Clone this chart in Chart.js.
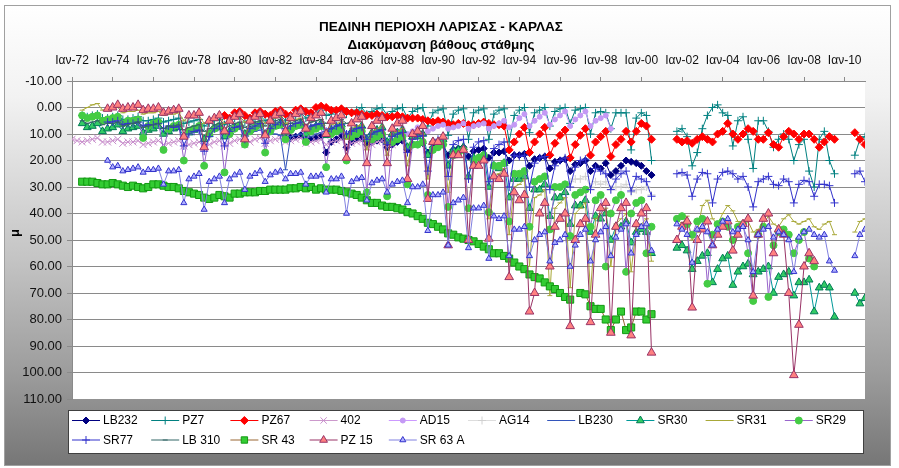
<!DOCTYPE html>
<html>
<head>
<meta charset="utf-8">
<title>Πεδινή περιοχή Λάρισας - Κάρλας</title>
<script src="https://cdn.jsdelivr.net/npm/chart.js"></script>
<style>
    html, body { margin: 0; padding: 0; background: #fff; }
    #wrap { width: 899px; height: 468px; position: relative; }
</style>
</head>
<body>
<div id="wrap"><canvas id="depthChart"></canvas></div>
<script>
// Water table depth (m) per well.
// One value per quarter (Jan, Apr, Jul, Oct), one row per year, from the given start year.

const titleLines = ['ΠΕΔΙΝΗ ΠΕΡΙΟΧΗ ΛΑΡΙΣΑΣ - ΚΑΡΛΑΣ', 'Διακύμανση βάθους στάθμης'];
const yAxisTitle = 'μ';

const tickYears = [1972, 1974, 1976, 1978, 1980, 1982, 1984, 1986, 1988, 1990,
    1992, 1994, 1996, 1998, 2000, 2002, 2004, 2006, 2008, 2010];
const xTickLabels = ['Ιαν-72', 'Ιαν-74', 'Ιαν-76', 'Ιαν-78', 'Ιαν-80', 'Ιαν-82', 'Ιαν-84',
    'Ιαν-86', 'Ιαν-88', 'Ιαν-90', 'Ιαν-92', 'Ιαν-94', 'Ιαν-96', 'Ιαν-98', 'Ιαν-00',
    'Ιαν-02', 'Ιαν-04', 'Ιαν-06', 'Ιαν-08', 'Ιαν-10'];
const yTickValues = [-10, 0, 10, 20, 30, 40, 50, 60, 70, 80, 90, 100, 110];

const seriesNames = ['LB232', 'PZ7', 'PZ67', '402', 'AD15', 'AG14', 'LB230', 'SR30',
    'SR31', 'SR29', 'SR77', 'LB 310', 'SR 43', 'PZ 15', 'SR 63 A'];

const lb232Start = 1982;
const lb232 = [
    null, null, 11, 11.5,   // 1982
    11, 10.5, 12, 12,
    11.5, 11, 17, 13,
    12, 11, 15, 13,
    12, 11.5, 14, 13,       // 1986
    12.5, 12, 15, 14,
    13, 12.5, 16, 14,
    14, 13.5, 17, 15,
    15, 14, 18, 16,         // 1990
    15.5, 15, 18.5, 16.5,
    16, 15.5, 19, 17,
    17, 16.5, 20, 18,
    18, 17.5, 22, 19.5,     // 1994
    19, 18.5, 23, 20.5,
    20, 19.5, 24, 21.5,
    21, 20, 24, 22,
    23, 21, 25.5, 24,       // 1998
    22, 20, 20.5, 21,
    22, 24, 25.5            // 2000
];

const pz7Start = 1972;
const pz7 = [
    null, null, 3, 3.5,     // 1972
    3, 2.5, 4, 4,
    3.5, 3, 4.5, 4.5,
    4, 3.5, 5, 5,
    4.5, 4, 5.5, 5,         // 1976
    4.5, 4, 6, 5.5,
    5, 4.5, 7, 6,
    5, 4.5, 6.5, 5.5,
    4, 3.5, 5.5, 5,         // 1980
    4, 3, 5, 4.5,
    3.5, 3, 5, 4,
    3, 2, 4, 3,
    2, 1, 3, 2.5,           // 1984
    1.5, 0.5, 2.5, 2,
    1, 0, 2.5, 1.5,
    0.5, 0, 3, 1.5,
    0.5, 0, 4, 1.5,         // 1988
    0.5, 0, 7, 2,
    1, 0.5, 10.5, 2.5,
    1, 0.5, 12, 2,
    1, 0.5, 12, 2.5,        // 1992
    1, 0.5, 13, 3,
    1, 0, 9.5, 2,
    1, 0, 7, 1.5,
    0.5, 0, 6, 1,           // 1996
    0.5, 0, 10, 2,
    1.5, 2, 8, 2,
    2, 2, 16, 4,
    2, 3, 20, null,         // 2000
    null, null, null, 9,
    8, 11, 22, 17,
    8, 3, 0, -1,
    2, 3, 14.5, 5,          // 2004
    3.5, 12, 23, 5,
    5, 9, 15, 12,
    10, 12, 20, 14,
    12, 24, 30, 12,         // 2008
    9, 20, 25, null,
    null, null, 18, 12,
    11                      // 2011
];

const pz67Start = 1979;
const pz67 = [
    null, null, 3, 4,       // 1979
    2, 1.5, 3, 4,
    2, 1.5, 2.5, 3,
    1.5, 1, 2.5, 3,
    1, 0.5, 1.5, 2,
    0, -0.5, 0, 1,          // 1984
    1, 0.5, 1.5, 2,
    2, 2.5, 3, 3,
    2.5, 3, 3.5, 3.5,
    3, 3.5, 4, 4,           // 1988
    4, 4.5, 5, 5.5,
    5, 5.5, 6, 6.5,
    6, 6, 6.5, 6.5,
    6, 5.5, 6, 6.5,         // 1992
    6.5, 7, 16, 13,
    10, 7.5, 17, 13,
    10, 7.5, 18, 13.5,
    10.5, 8.5, 19, 14,      // 1996
    10.5, 8, 18, 13,
    11, 9, 18.5, 14,
    12, 9, 13, 9,
    6, 7, 12, null,         // 2000
    null, null, null, 12,
    13, 12.5, 13.5, 12,
    11, 12, 13, 10,
    9, 6, 10, 12,           // 2004
    10, 8, 9, 12,
    12, 9.5, 14, 15,
    11, 9, 10, 12,
    10, 10, 12, 15,         // 2008
    13, 11, 12, null,
    null, null, 9.5, 12,
    14                      // 2011
];

const w402Start = 1972;
const w402 = [
    12, 12.5, 13, 12.5,     // 1972
    12, 11.5, 13, 13,
    12.5, 12, 13.5, 13,
    13, 12.5, 14, 13.5,
    13, 12.5, 14, 13.5,     // 1976
    13, 12.5, 14.5, 14,
    13.5, 13, 15, 14,
    13, 12.5, 14.5, 13.5,
    12.5, 12, 14, 13,       // 1980
    12, 11.5, 13.5, 12.5,
    12, 11.5, 13, 12.5,
    12, 11.5, 13.5, 13,
    12.5, 12, 14, 13,       // 1984
    12.5, 12, 14.5, 13.5,
    13, 12.5, 15, 14,
    13, 12.5, 15, 14
];

const ad15Start = 1988;
const ad15 = [
    9, 8, 10, 9,            // 1988
    7.5, 7, 9, 8,
    7, 6.5, 8, 7.5,
    7, 6, 8, 7,
    6.5, 6, 8, 7,           // 1992
    6, 5, 7.5, 6.5,
    4, 2.5, 7, 5,
    3.5, 2, 6.5, 4.5,
    3, 1.5, 7, 4.5,         // 1996
    3, 1.5, 7, 5,
    4, 3, 8
];

const ag14Start = 1996;
const ag14 = [
    null, null, 28, 27,     // 1996
    27, 26, 30, 28,
    29, 28, 31, 30,
    30, 29, 32, 31,
    31, 30, 33
];

const lb230Start = 1980;
const lb230 = [
    null, null, 9, 9.5,     // 1980
    9, 8.5, 10, 10,
    10, 10.5, 23.5, 11,
    10.5, 10, 11.5, 11,
    10, 9.5, 11, 10.5,
    10, 9.5, 11, 10.5
];

const sr30Start = 1972;
const sr30 = [
    null, null, 6, 7.5,     // 1972
    7, 6, 9, 8,
    7.5, 6.5, 9, 8,
    7.5, 7, 9.5, 8.5,
    8, 7, 10, 9,            // 1976
    8, 7.5, 11, 9.5,
    8.5, 8, 12, 10,
    8, 7.5, 11, 9,
    7.5, 7, 10, 8.5,        // 1980
    7, 6.5, 10, 8,
    7, 6, 9.5, 8,
    7, 6, 10, 8,
    7, 6, 10.5, 8.5,        // 1984
    7.5, 6.5, 11, 9,
    8, 7, 12, 9.5,
    8.5, 7.5, 13, 10,
    9.5, 8.5, 15, 11,       // 1988
    11, 10, 18, 13,
    13, 12, 22, 16,
    16, 15, 26, 19,
    19, 18, 30, 22,         // 1992
    23, 21, 34, 27,
    27, 26, 38, 31,
    31, 29, 41, 34,
    34, 32, 44, 37,         // 1996
    37, 35, 47, 41,
    42, 40, 50, 45,
    45, 43, 51, 47,
    46, 47, 55, null,       // 2000
    null, null, null, 53,
    52, 54, 61, 58,
    56, 55, 66, 61,
    57, 56, 67, 62,         // 2004
    60, 59, 63, 62,
    61, 60, 70, 64,
    63, 62, 71, 66,
    66, 65, 77, 68,         // 2008
    67, 68, 79, null,
    null, null, 70, 74,
    72                      // 2011
];

const sr31Start = 1972;
const sr31 = [
    null, null, 1, 0,       // 1972
    -1, -1.5, 1, 0.5,
    0.5, 0, 2, 1.5,
    1.5, 1, 2.5, 2,
    2, 1.5, 3, 2.5,         // 1976
    2.5, 2, 5, 3.5,
    3.5, 3, 6, 4.5,
    4, 3.5, 6, 4.5,
    4, 3.5, 5.5, 4.5,       // 1980
    4, 3.5, 6, 4.5,
    4, 3.5, 6, 5,
    4.5, 4, 7, 5.5,
    5, 4.5, 9, 6.5,         // 1984
    6, 5.5, 12, 8,
    7, 6.5, 16, 9,
    8, 7, 18, 10,
    9, 8, 22, 12,           // 1988
    11, 10, 27, 15,
    14, 13, 32, 18,
    18, 16, 37, 22,
    21, 19, 42, 26,         // 1992
    25, 23, 48, 30,
    29, 27, 60, 34,
    33, 31, 71, 38,
    36, 34, 68, 40,         // 1996
    38, 36, 70, 42,
    40, 38, 60, 44,
    42, 40, 62, 45,
    44, 42, 58, null,       // 2000
    null, null, null, 42,
    44, 41, 50, 47,
    37, 35, 42, 44,
    40, 37, 39, 43,         // 2004
    45, 43, 47, 46,
    44, 41, 44, 45,
    42, 40.5, 43, 44,
    43, 42, 45, 46,         // 2008
    44, 43, 48, null,
    null, null, 47, 43,
    42                      // 2011
];

const sr29Start = 1972;
const sr29 = [
    null, null, 3, 4,       // 1972
    3.5, 3, 5, 4.5,
    4, 3.5, 6, 5,
    5, 4.5, 11.5, 7,
    6, 5.5, 16, 8,          // 1976
    7, 6.5, 20, 9,
    8, 7, 22, 10,
    8, 7, 24.5, 10,
    8, 7, 14, 9,            // 1980
    7.5, 6.5, 17, 9,
    7, 6.5, 12, 8.5,
    7, 6.5, 13, 9,
    8, 7, 22.5, 10,         // 1984
    9, 8, 20, 11,
    10, 9, 32, 12,
    11, 10, 33.5, 13,
    12, 11, 29, 14,         // 1988
    14, 13, 33, 16,
    15, 14, 37.5, 18,
    17, 16, 38, 20,
    19, 18, 39.5, 22,       // 1992
    22, 21, 43, 25,
    25, 24, 45, 28,
    27, 26, 46, 30,
    30, 29, 48.5, 33,       // 1996
    32, 31, 45, 35,
    33, 60, 40, 35,
    33, 62, 40, 36,
    35, 55, 45, null,       // 2000
    null, null, null, 42,
    41, 44, 48, 43,
    42, 66.5, 48, 44,
    43, 45, 50, 45,         // 2004
    44, 55, 73, 48,
    45, 71.5, 52, 47,
    46, 48, 55, 50,
    47, 57, 60              // 2008
];

const sr77Start = 1973;
const sr77 = [
    null, null, null, 5.5,  // 1973
    5.5, 5, 6.5, 6,
    6, 5.5, 7, 6.5,
    6.5, 6, 8, 7,           // 1976
    7.5, 7, 14.5, 10,
    9, 8.5, 16.5, 11,
    8, 7, 14.5, 9,
    7.5, 7, 12, 8,          // 1980
    7, 6, 13.5, 8,
    6.5, 5.5, 8, 7,
    6, 5.5, 8, 7,
    6.5, 6, 9, 8,           // 1984
    7, 6.5, 10, 9,
    8, 7.5, 12, 10,
    9, 8.5, 14, 11,
    10, 9.5, 17, 12,        // 1988
    11, 10.5, 24, 13,
    12, 11.5, 26, 14,
    12.5, 12, 27, 15,
    13, 12.5, 28, 15.5,     // 1992
    14, 13, 30, 18,
    18.5, 18, 30, 21,
    19, 18.5, 31, 22,
    20, 19, 30, 22.5,       // 1996
    20, 19.5, 31, 23,
    24, 25, 31, 27,
    25, 24, 31.5, 26,
    27, 28, 33.5, null,     // 2000
    null, null, null, 25,
    24.5, 25.5, 33.5, 27,
    24.5, 25, 36, 27,
    24.5, 24, 25, 27,       // 2004
    26, 30, 37.5, 28,
    27, 26, 29, 29.5,
    27, 28, 36, 29,
    27.5, 28, 33.5, 29,     // 2008
    29, 29.5, 36, null,
    null, null, 25, 24,
    28                      // 2011
];

const lb310Start = 1972;
const lb310 = [
    null, null, 5, 6,       // 1972
    5.5, 5, 6.5, 6,
    6, 5.5, 7, 6.5,
    6, 5.5, 7.5, 7,
    6.5, 6, 8, 7,           // 1976
    7, 6.5, 8.5, 7.5,
    7, 6.5, 9, 8,
    6.5, 6, 8, 7,
    6, 5.5, 7.5, 6.5,       // 1980
    5.5, 5, 7, 6,
    5, 4.5, 6.5, 6,
    5, 4.5, 6.5, 5.5,
    5, 4.5, 6, 5.5,         // 1984
    5, 4.5, 6, 5.5
];

const sr43Start = 1972;
const sr43 = [
    null, null, 28, 28,     // 1972
    28, 28.5, 29, 29,
    28.5, 29, 29.5, 30,
    29.5, 30, 30.5, 30,
    29, 29, 29.5, 30,       // 1976
    30, 30.5, 31.5, 32,
    32.5, 33, 34, 34.5,
    34, 33, 33.5, 34,
    32.5, 32.5, 32, 32,     // 1980
    32, 31.5, 31.5, 31,
    31, 31, 31, 30.5,
    30.5, 30, 30.5, 30,
    31, 30.5, 31, 31,       // 1984
    31, 31.5, 32, 32.5,
    33, 34, 35, 36,
    36, 37, 37.5, 37.5,
    38, 38.5, 39.5, 40,     // 1988
    41, 42, 43.5, 44,
    45, 46, 47.5, 48,
    49, 49.5, 50, 50.5,
    51.5, 52.5, 53.5, 55,   // 1992
    55, 56, 57, 58.5,
    60, 61, 63, 64,
    64.5, 66, 67.5, 68.5,
    70, 71.5, 72.5, null,   // 1996
    70, 70.5, 75, 76,
    76, 80, 84, 80,
    77, 84, 83, 77,
    77, 80, 78              // 2000
];

const pz15Start = 1973;
const pz15 = [
    null, null, null, 0.5,  // 1973
    0, -1, 0.5, 0,
    0, -1, 1, 0.5,
    0.5, 0, 2, 1.5,         // 1976
    1, 0.5, 11, 3,
    3, 2, 15, 5,
    4, 3, 9, 5,
    3.5, 2.5, 12, 5,        // 1980
    3.5, 2.5, 10.5, 5,
    3, 2, 9, 4,
    2.5, 1.5, 8, 4,
    3, 2, 10, 5,            // 1984
    4, 3, 19, 6,
    4.5, 3.5, 21, 7,
    5, 4, 21, 8,
    6, 5, 27, 10,           // 1988
    9, 7, 34.5, 13,
    13, 11, 52, 18,
    18, 16, 50, 22,
    22, 20, 49.5, 26,       // 1992
    27, 25, 64, 32,
    35, 33, 77, 70,
    40, 36, 60, 45,
    42, 40, 82.5, 50,       // 1996
    44, 42, 81, 48,
    38, 36, 85, 45,
    38, 36, 86, 44,
    40, 38, 92.5, null,     // 2000
    null, null, null, 50,
    45, 43, 75.5, 50,
    46, 43, 52, 48,
    45, 43, 54, 48,         // 2004
    44, 42, 71, 48,
    42, 40, 55, 46,
    48, 70, 101, 82,
    60, 55, 58              // 2008
];

const sr63aStart = 1973;
const sr63a = [
    null, null, null, 20,   // 1973
    22.5, 22, 24, 23.5,
    23, 22.5, 24.5, 23.5,
    23.5, 23, 29, 24,       // 1976
    24, 23.5, 36, 27,
    26, 25, 38.5, 28,
    27, 26, 36, 27,
    25.5, 24.5, 31, 26,     // 1980
    25, 24, 28, 25.5,
    24.5, 24, 27, 25,
    25, 24.5, 29, 26,
    26, 25.5, 32, 27,       // 1984
    27, 26, 40, 28,
    27, 26.5, 35, 28.5,
    27.5, 27, 32, 29,
    28, 27.5, 36, 30,       // 1988
    30, 29, 46.5, 33,
    33, 32, 52, 36,
    35, 34, 53, 38,
    38, 37, 57, 41,         // 1992
    42, 41, 56, 46,
    46, 45, 56, 50,
    48, 47, 58, 51,
    50, 48, 60, 52,         // 1996
    48, 46, 58, 50,
    47, 45, 56, 49,
    46, 44, 55, 48,
    45, 44, 54, null,       // 2000
    null, null, null, 44,
    46, 48, 58.5, 46,
    45, 47, 52, 46,
    43, 42, 47, 46,         // 2004
    45, 50, 62, 48,
    46, 45, 49, 47,
    48, 50, 62, 49,
    47, 46, 48, 49,         // 2008
    48, 58, 61.5, null,
    null, null, 56, 48,
    46                      // 2011
];

const seriesStarts = [lb232Start, pz7Start, pz67Start, w402Start, ad15Start, ag14Start, lb230Start,
    sr30Start, sr31Start, sr29Start, sr77Start, lb310Start, sr43Start, pz15Start, sr63aStart];
const seriesValues = [lb232, pz7, pz67, w402, ad15, ag14, lb230,
    sr30, sr31, sr29, sr77, lb310, sr43, pz15, sr63a];

// line colour, marker style, marker radius, marker fill, marker outline
const seriesStyles = [
    { line: '#000080', point: 'rectRot', r: 3.5, fill: '#000080', edge: '#000080' },
    { line: '#008080', point: 'cross', r: 4, fill: '#008080', edge: '#008080' },
    { line: '#ff0000', point: 'rectRot', r: 4, fill: '#ff0000', edge: '#ff0000' },
    { line: '#cc99cc', point: 'crossRot', r: 5, fill: '#c88ccc', edge: '#c88ccc' },
    { line: '#cc99ff', point: 'circle', r: 2.5, fill: '#c499f5', edge: '#c499f5' },
    { line: '#dddddd', point: 'cross', r: 4, fill: '#d0d0d0', edge: '#d0d0d0' },
    { line: '#3355bb', point: 'line', r: 2.5, fill: '#3355bb', edge: '#3355bb' },
    { line: '#009999', point: 'triangle', r: 4.5, fill: '#33cc66', edge: '#007a55' },
    { line: '#a8a838', point: 'line', r: 2.5, fill: '#a8a838', edge: '#a8a838' },
    { line: '#9966cc', point: 'circle', r: 3.5, fill: '#44cc44', edge: '#44cc44' },
    { line: '#3333cc', point: 'cross', r: 4, fill: '#3333cc', edge: '#3333cc' },
    { line: '#336666', point: 'line', r: 2.5, fill: '#336666', edge: '#336666' },
    { line: '#996633', point: 'rect', r: 5, fill: '#33cc33', edge: '#119911' },
    { line: '#993366', point: 'triangle', r: 5, fill: '#ff8080', edge: '#993366' },
    { line: '#8080e0', point: 'triangle', r: 3.5, fill: '#b0b0ff', edge: '#3333cc' }
];

function quarterPoints(startYear, values) {
    return values.map((v, i) => ({ x: startYear + i / 4, y: v }));
}

const datasets = seriesNames.map((name, i) => {
    const s = seriesStyles[i];
    return {
        label: name,
        data: quarterPoints(seriesStarts[i], seriesValues[i]),
        borderColor: s.line,
        borderWidth: 1,
        pointStyle: s.point,
        pointRadius: s.r,
        pointHoverRadius: s.r,
        pointBackgroundColor: s.fill,
        pointBorderColor: s.edge,
        pointBorderWidth: 1,
        tension: 0,
        spanGaps: false,
        order: -i
    };
});

const FONT = '"Liberation Sans", Arial, sans-serif';
Chart.defaults.font.family = FONT;
Chart.defaults.color = '#000';

// background, title, axis title and the two-row legend
const chartDecor = {
    id: 'chartDecor',
    beforeDraw(chart) {
        const ctx = chart.ctx;
        const a = chart.chartArea;
        ctx.save();
        ctx.fillStyle = '#fff';
        ctx.fillRect(0, 0, chart.width, chart.height);
        const g = ctx.createLinearGradient(0, 5, 0, 466);
        g.addColorStop(0, '#ffffff');
        g.addColorStop(0.2, '#f2f2f2');
        g.addColorStop(0.55, '#c4c4c4');
        g.addColorStop(0.8, '#9c9c9c');
        g.addColorStop(1, '#767676');
        ctx.fillStyle = g;
        ctx.fillRect(4.5, 5.5, 886, 460);
        ctx.strokeStyle = '#a0a0a0';
        ctx.lineWidth = 1;
        ctx.strokeRect(4.5, 5.5, 886, 460);
        ctx.fillStyle = '#fff';
        ctx.fillRect(a.left, a.top, a.right - a.left, a.bottom - a.top);
        ctx.restore();
    },
    afterDraw(chart) {
        const ctx = chart.ctx;
        ctx.save();
        ctx.fillStyle = '#000';
        ctx.textAlign = 'center';
        ctx.textBaseline = 'middle';
        ctx.font = 'bold 13.5px ' + FONT;
        ctx.fillText(titleLines[0], 441, 27);
        ctx.fillText(titleLines[1], 441, 45.5);

        ctx.save();
        ctx.translate(15, 233);
        ctx.rotate(-Math.PI / 2);
        ctx.font = 'bold 13px ' + FONT;
        ctx.fillText(yAxisTitle, 0, 0);
        ctx.restore();

        // legend box
        ctx.fillStyle = '#fff';
        ctx.fillRect(68.5, 410.5, 795, 43);
        ctx.strokeStyle = '#404040';
        ctx.lineWidth = 1;
        ctx.strokeRect(68.5, 410.5, 795, 43);

        ctx.textAlign = 'left';
        ctx.font = '12px ' + FONT;
        chart.data.datasets.forEach((ds, i) => {
            const col = i % 10;
            const row = Math.floor(i / 10);
            const x0 = 72 + col * 79.2;
            const y = 420 + row * 19.5;
            ctx.strokeStyle = ds.borderColor;
            ctx.lineWidth = 1;
            ctx.beginPath();
            ctx.moveTo(x0, y + 0.5);
            ctx.lineTo(x0 + 28, y + 0.5);
            ctx.stroke();
            ctx.fillStyle = ds.pointBackgroundColor;
            ctx.strokeStyle = ds.pointBorderColor;
            Chart.helpers.drawPoint(ctx, {
                pointStyle: ds.pointStyle,
                radius: Math.min(ds.pointRadius, 4.5),
                rotation: 0,
                borderWidth: 1
            }, x0 + 14, y + 0.5);
            ctx.fillStyle = '#000';
            ctx.fillText(ds.label, x0 + 31, y + 1);
        });
        ctx.restore();
    }
};

new Chart(document.getElementById('depthChart'), {
    type: 'line',
    data: { datasets },
    options: {
        responsive: true,
        maintainAspectRatio: false,
        animation: false,
        events: [],
        layout: { padding: { top: 55, left: 4, right: 34, bottom: 69 } },
        plugins: {
            legend: { display: false },
            title: { display: false },
            tooltip: { enabled: false }
        },
        scales: {
            x: {
                type: 'linear',
                position: 'top',
                min: 1972,
                max: 2011,
                afterFit(scale) { scale.height = 26; },
                afterBuildTicks(scale) { scale.ticks = tickYears.map(v => ({ value: v })); },
                ticks: {
                    callback: (v, i) => xTickLabels[i],
                    autoSkip: false,
                    maxRotation: 0,
                    padding: 9,
                    color: '#111',
                    font: { size: 12 }
                },
                grid: { drawOnChartArea: false, tickLength: 4, tickColor: '#8a8a8a' },
                border: { color: '#8a8a8a' }
            },
            y: {
                reverse: true,
                min: -10,
                max: 110,
                afterFit(scale) { scale.width = 68; },
                afterBuildTicks(scale) { scale.ticks = yTickValues.map(v => ({ value: v })); },
                ticks: {
                    callback: v => v.toFixed(2),
                    padding: 5,
                    color: '#111',
                    font: { size: 13 }
                },
                grid: {
                    color: c => (c.tick && c.tick.value === 110) ? 'rgba(0,0,0,0)' : '#8a8a8a',
                    tickLength: 5,
                    tickColor: '#8a8a8a'
                },
                border: { color: '#8a8a8a' }
            }
        }
    },
    plugins: [chartDecor]
});
</script>
</body>
</html>
